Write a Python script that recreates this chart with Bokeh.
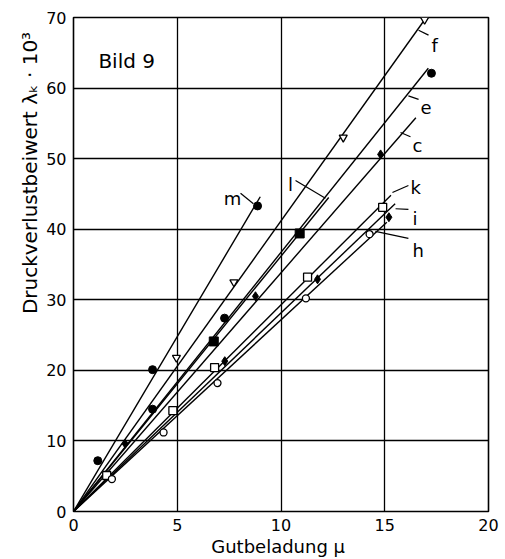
import math
from bokeh.plotting import figure
from bokeh.models import Range1d, Label, FixedTicker, Title
from bokeh.core.properties import value
from bokeh.embed import file_html
from bokeh.resources import INLINE

FONT = "DejaVu Sans"

# ---------------- data ----------------
x_ticks = [0, 5, 10, 15, 20]
y_ticks = [0, 10, 20, 30, 40, 50, 60, 70]

series = ["f", "m", "e", "l", "c", "k", "i", "h"]
# fitted straight lines (all start at origin), end points
line_end_x = [17.0, 9.0, 17.1, 12.3, 16.5, 15.3, 15.5, 15.1]
line_end_y = [70.0, 44.6, 62.8, 44.5, 55.8, 44.8, 43.6, 41.0]

f_x = [4.96, 7.73, 13.0, 16.92]
f_y = [21.8, 32.5, 53.0, 69.7]
m_x = [1.17, 3.81, 8.87]
m_y = [7.2, 20.1, 43.3]
e_x = [3.81, 7.28, 17.25]
e_y = [14.5, 27.4, 62.1]
l_x = [6.76, 10.9]
l_y = [24.1, 39.4]
c_x = [2.49, 8.77, 14.8]
c_y = [9.6, 30.5, 50.6]
k_x = [1.6, 4.79, 6.8, 11.28, 14.9]
k_y = [5.1, 14.3, 20.4, 33.2, 43.1]
i_x = [7.29, 11.76, 15.2]
i_y = [21.3, 32.9, 41.7]
h_x = [1.85, 4.34, 6.94, 11.2, 14.27]
h_y = [4.6, 11.2, 18.2, 30.2, 39.3]

x_label = "Gutbeladung  μ"
y_label = "Druckverlustbeiwert  λₖ · 10³"
title_text = "Bild 9"

# curve-name annotations (text anchor and leader line)
name_x = [17.25, 7.66, 16.72, 10.46, 16.34, 16.24, 16.34, 16.34]
name_y = [66.0, 44.3, 57.3, 46.4, 51.9, 45.9, 41.5, 37.0]
name_align = ["left", "center", "left", "center", "left", "left", "left", "left"]
lead_x0 = [16.63, 8.05, 16.14, 10.70, 15.76, 15.37, 15.52, 14.55]
lead_y0 = [68.2, 45.1, 58.9, 46.9, 53.7, 45.2, 42.9, 39.7]
lead_x1 = [17.11, 8.67, 16.63, 12.14, 16.24, 16.14, 16.14, 16.14]
lead_y1 = [67.5, 43.6, 58.4, 44.4, 53.1, 46.2, 42.8, 38.7]

# ---------------- figure ----------------
p = figure(width=505, height=559,
           x_range=Range1d(0, 20), y_range=Range1d(0, 70),
           output_backend="svg", toolbar_location=None,
           min_border_left=73, min_border_right=17,
           min_border_top=17, min_border_bottom=48)
p.background_fill_color = "white"
p.border_fill_color = "white"
p.outline_line_color = "black"
p.outline_line_width = 1.6
p.outline_line_alpha = 1.0

p.xaxis.ticker = FixedTicker(ticks=x_ticks)
p.yaxis.ticker = FixedTicker(ticks=y_ticks)
for ax in (p.xaxis[0], p.yaxis[0]):
    ax.axis_line_color = None
    ax.major_tick_line_color = None
    ax.minor_tick_line_color = None
    ax.major_tick_out = 0
    ax.major_tick_in = 0
    ax.major_label_text_font = FONT
    ax.major_label_text_font_size = "16px"
    ax.major_label_text_color = "black"
p.xaxis.major_label_standoff = 7
p.yaxis.major_label_standoff = 7

p.xaxis.axis_label = x_label
p.xaxis.axis_label_text_font = FONT
p.xaxis.axis_label_text_font_size = "18px"
p.xaxis.axis_label_text_font_style = "normal"
p.xaxis.axis_label_text_color = "black"
p.xaxis.axis_label_standoff = 2

ytitle = Title(text=y_label, align="right", offset=8, standoff=4,
               text_font=FONT, text_font_size="20px", text_font_style="normal",
               text_color="black")
p.add_layout(ytitle, "left")

for g in (p.xgrid[0], p.ygrid[0]):
    g.grid_line_color = "black"
    g.grid_line_width = 1.3
    g.grid_line_alpha = 1.0

# fitted lines from the origin
p.segment(x0=[0] * len(series), y0=[0] * len(series),
          x1=line_end_x, y1=line_end_y, line_color="black", line_width=1.4)

# measured points
p.scatter(f_x, f_y, marker="inverted_triangle", size=8, fill_color="white", line_color="black", line_width=1.3)
p.scatter(m_x, m_y, marker="circle", size=8, fill_color="black", line_color="black")
p.scatter(e_x, e_y, marker="circle", size=8, fill_color="black", line_color="black")
p.scatter(l_x, l_y, marker="square", size=9, fill_color="black", line_color="black")
p.scatter(c_x, c_y, marker="diamond", size=9, fill_color="black", line_color="black")
p.scatter(k_x, k_y, marker="square", size=8, fill_color="white", line_color="black", line_width=1.3)
p.scatter(i_x, i_y, marker="diamond", size=9, fill_color="black", line_color="black")
p.scatter(h_x, h_y, marker="circle", size=7, fill_color="white", line_color="black", line_width=1.3)

# curve names with leader lines
p.segment(x0=lead_x0, y0=lead_y0, x1=lead_x1, y1=lead_y1, line_color="black", line_width=1.2)
for nm, nx, ny, al in zip(series, name_x, name_y, name_align):
    p.text(x=[nx], y=[ny], text=[nm], text_font=value(FONT), text_font_size="18px",
           text_align=al, text_baseline="alphabetic", text_color="black")

# figure caption inside plot
p.add_layout(Label(x=1.2, y=63.9, text=title_text, text_font=FONT, text_font_size="20px",
                   text_align="left", text_baseline="alphabetic", text_color="black"))

open("out.html", "w").write(file_html(p, INLINE))
